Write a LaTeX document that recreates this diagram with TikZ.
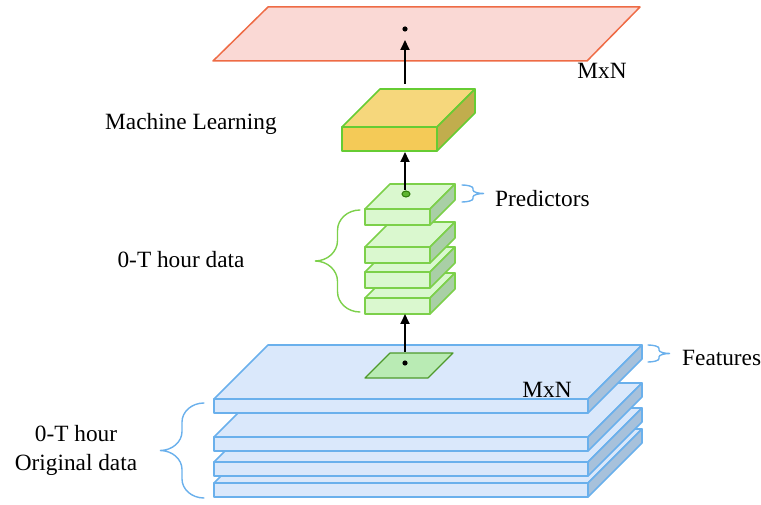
\documentclass[tikz,border=0pt]{standalone}
\usepackage{fontspec}
\setmainfont{Liberation Serif}
\usetikzlibrary{arrows.meta}

\definecolor{planefill}{HTML}{FAD9D5}
\definecolor{planeline}{HTML}{EE6B45}
\definecolor{mltop}{HTML}{F6D77C}
\definecolor{mlfront}{HTML}{F4CA57}
\definecolor{mlside}{HTML}{C1AD4D}
\definecolor{mlline}{HTML}{66CC33}
\definecolor{grline}{HTML}{7CD04A}
\definecolor{grfill}{HTML}{DAF8CF}
\definecolor{grside}{HTML}{A9CFA6}
\definecolor{blfill}{HTML}{DAE8FB}
\definecolor{blside}{HTML}{A7C1DB}
\definecolor{blline}{HTML}{6AB0EC}
\definecolor{patchfill}{HTML}{B9EBB4}
\definecolor{patchline}{HTML}{4E9A2C}
\definecolor{dotfill}{HTML}{5DB531}
\definecolor{dotline}{HTML}{2E7A0A}

% 3D slab: x0, x1, top of front face, front height, depth, top colour, front colour, side colour, line colour
\newcommand\slab[9]{%
  \filldraw[draw=#9, fill=#6, slabline]
    (#1,#3) -- ({#1+#5},{#3-#5}) -- ({#2+#5},{#3-#5}) -- (#2,#3) -- cycle;
  \filldraw[draw=#9, fill=#8, slabline]
    (#2,#3) -- ({#2+#5},{#3-#5}) -- ({#2+#5},{#3+#4-#5}) -- (#2,{#3+#4}) -- cycle;
  \filldraw[draw=#9, fill=#7, slabline]
    (#1,#3) rectangle (#2,{#3+#4});
}

% curly brace built from quarter ellipses:
% x of the ends, x of the tip, top y, bottom y, colour
\newcommand\curlybrace[5]{%
  \pgfmathsetmacro\bxm{(#1+#2)/2}%
  \pgfmathsetmacro\bym{(#3+#4)/2}%
  \pgfmathsetmacro\bw{(#1-#2)/2}%
  \pgfmathsetmacro\br{(#4-#3)*0.2}%
  \draw[#5, line width=1.4pt, line cap=round]
    (#1,#3) .. controls ({#1-0.552*\bw},#3) and (\bxm,{#3+0.448*\br}) .. (\bxm,{#3+\br})
    -- (\bxm,{\bym-\br})
    .. controls (\bxm,{\bym-0.448*\br}) and ({#2+0.552*\bw},\bym) .. (#2,\bym)
    .. controls ({#2+0.552*\bw},\bym) and (\bxm,{\bym+0.448*\br}) .. (\bxm,{\bym+\br})
    -- (\bxm,{#4-\br})
    .. controls (\bxm,{#4-0.448*\br}) and ({#1-0.552*\bw},#4) .. (#1,#4);
}

\begin{document}
\begin{tikzpicture}[x=1pt, y=-1pt,
  slabline/.style={line width=1.6pt, line join=round},
  lbl/.style={font=\fontsize{23.3}{29}\selectfont, text=black, inner sep=0pt},
  flow/.style={line width=1.8pt, -{Triangle[width=9pt,length=10pt]}}]
\useasboundingbox (0,0) rectangle (761,505);

% output plane
\filldraw[draw=planeline, fill=planefill, line width=1.5pt, line join=round]
  (268,7) -- (640,7) -- (587,61) -- (213,61) -- cycle;
\fill[black] (405,29) circle (2.6);
\coordinate (outdot) at (405,40);
\node[lbl, anchor=base] (mxnout) at (602,79) {MxN};

% original data stack
\slab{214}{588}{483}{14}{54}{blfill}{blfill}{blside}{blline}
\slab{214}{588}{462}{14}{54}{blfill}{blfill}{blside}{blline}
\slab{214}{588}{437}{14}{54}{blfill}{blfill}{blside}{blline}
\slab{214}{588}{399}{14}{54}{blfill}{blfill}{blside}{blline}
\node[lbl, anchor=base] (mxnin) at (547,397) {MxN};

% feature patch on the top slab
\filldraw[draw=patchline, fill=patchfill, line width=1.2pt, line join=round]
  (390,353) -- (453,353) -- (428,378) -- (365,378) -- cycle;
\fill[black] (405,363) circle (2.6);
\coordinate (patchtop) at (405,352);

% predictor stack
\slab{365}{430}{298}{16}{25}{grfill}{grfill}{grside}{grline}
\slab{365}{430}{272}{16}{25}{grfill}{grfill}{grside}{grline}
\slab{365}{430}{247}{16}{25}{grfill}{grfill}{grside}{grline}
\slab{365}{430}{209}{16}{25}{grfill}{grfill}{grside}{grline}
\coordinate (stackbot) at (405,314);
\filldraw[draw=dotline, fill=dotfill, line width=1pt] (406,194) ellipse (4 and 3);
\coordinate (gdot) at (405,190);

% machine learning block
\slab{342}{437}{127}{24}{38}{mltop}{mlfront}{mlside}{mlline}
\coordinate (mlbot) at (405,152);
\coordinate (mltopc) at (405,84);

% flow arrows
\draw[flow] (patchtop) -- (stackbot);
\draw[flow] (gdot) -- (mlbot);
\draw[flow] (mltopc) -- (outdot);

% braces
\curlybrace{360}{315}{210}{312}{grline}
\curlybrace{204}{160}{403}{498}{blline}
\curlybrace{462}{484}{185}{202}{blline}
\curlybrace{648}{670}{345}{362}{blline}

% labels
\node[lbl, anchor=base west] (ml) at (105,130) {Machine Learning};
\node[lbl, anchor=base west] (pred) at (495,207) {Predictors};
\node[lbl, anchor=base west] (feat) at (682,366) {Features};
\node[lbl, anchor=base] (hdata) at (181,268) {0-T hour data};
\node[lbl, anchor=base, align=center] (orig) at (76,470) {0-T hour\\Original data};
\end{tikzpicture}
\end{document}
